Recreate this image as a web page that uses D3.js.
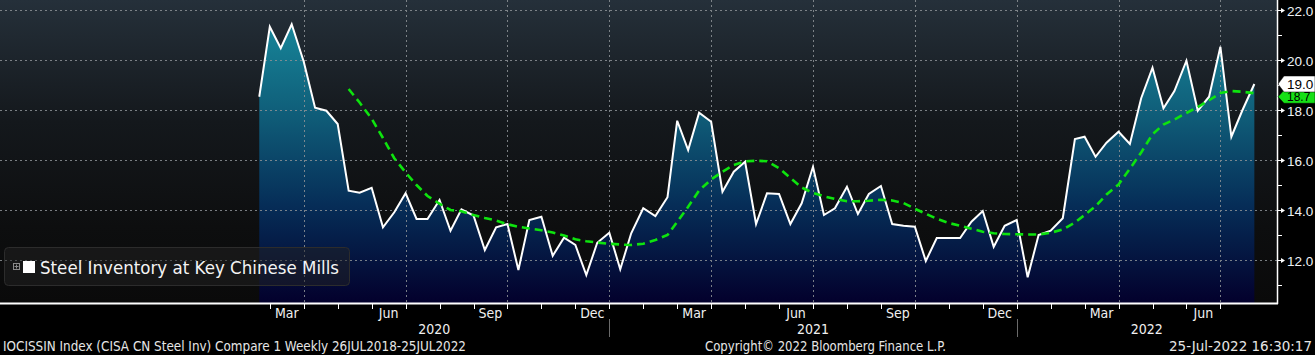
<!DOCTYPE html>
<html><head><meta charset="utf-8">
<script src="https://cdn.jsdelivr.net/npm/d3@7"></script>
<style>html,body{margin:0;padding:0;background:#000;overflow:hidden}</style>
</head><body>
<svg id="chart" width="1315" height="355"></svg>
<script>
// ---------- data ----------
const dates = [
"2020-02-21",
"2020-03-01","2020-03-11","2020-03-21","2020-04-01","2020-04-11","2020-04-21",
"2020-05-01","2020-05-11","2020-05-21","2020-06-01","2020-06-11","2020-06-21",
"2020-07-01","2020-07-11","2020-07-21","2020-08-01","2020-08-11","2020-08-21",
"2020-09-01","2020-09-11","2020-09-21","2020-10-01","2020-10-11","2020-10-21",
"2020-11-01","2020-11-11","2020-11-21","2020-12-01","2020-12-11","2020-12-21",
"2021-01-01","2021-01-11","2021-01-21","2021-02-01","2021-02-11","2021-02-21",
"2021-03-01","2021-03-11","2021-03-21","2021-04-01","2021-04-11","2021-04-21",
"2021-05-01","2021-05-11","2021-05-21","2021-06-01","2021-06-11","2021-06-21",
"2021-07-01","2021-07-11","2021-07-21","2021-08-01","2021-08-11","2021-08-21",
"2021-09-01","2021-09-11","2021-09-21","2021-10-01","2021-10-11","2021-10-21",
"2021-11-01","2021-11-11","2021-11-21","2021-12-01","2021-12-11","2021-12-21",
"2022-01-01","2022-01-11","2022-01-21","2022-02-01","2022-02-11","2022-02-21",
"2022-03-01","2022-03-11","2022-03-21","2022-04-01","2022-04-11","2022-04-21",
"2022-05-01","2022-05-11","2022-05-21","2022-06-01","2022-06-11","2022-06-21",
"2022-07-01","2022-07-11","2022-07-21","2022-08-01"
];
const inventory = [
18.53,21.33,20.47,21.43,19.93,18.09,17.97,17.44,14.77,14.69,14.89,13.31,
13.91,14.67,13.64,13.64,14.40,13.17,14.03,13.78,12.40,13.31,13.44,11.60,
13.60,13.73,12.17,12.89,12.60,11.40,12.69,13.09,11.63,13.07,14.07,13.76,
14.51,17.57,16.40,17.89,17.53,14.73,15.53,15.93,13.44,14.67,14.64,13.44,
14.27,15.73,13.80,14.07,14.93,13.84,14.64,14.96,13.44,13.37,13.33,11.96,
12.88,12.88,12.88,13.53,13.96,12.53,13.37,13.60,11.31,13.00,13.17,13.67,
16.84,16.93,16.13,16.69,17.13,16.64,18.47,19.69,18.07,18.76,19.97,17.97,
18.53,20.53,16.93,17.98,19.04
];
const movingAvg = [
null,null,null,null,null,null,null,null,
18.84,18.30,17.65,16.88,16.07,15.50,15.00,14.56,14.25,14.00,13.95,13.80,
13.68,13.58,13.43,13.33,13.26,13.19,13.10,12.98,12.83,12.75,12.70,12.65,
12.62,12.60,12.65,12.80,13.00,13.53,14.13,14.78,15.22,15.53,15.80,15.95,
15.97,15.95,15.67,15.28,14.90,14.68,14.55,14.44,14.35,14.35,14.37,14.41,
14.38,14.28,14.05,13.85,13.65,13.48,13.37,13.25,13.13,13.07,13.04,13.03,
13.02,13.02,13.09,13.22,13.50,13.80,14.15,14.62,15.02,15.65,16.30,17.03,
17.42,17.62,17.88,18.12,18.39,18.68,18.76,18.73,18.67
];
const yTicksMajor = [12,14,16,18,20,22];
const yTicksMinor = [11,13,15,17,19,21];
const monthLabelNames = ["Jan","Feb","Mar","Apr","May","Jun","Jul","Aug","Sep","Oct","Nov","Dec"];
const labelledMonths = [2,5,8,11];          // Mar, Jun, Sep, Dec
const yearLabels = ["2020","2021","2022"];
const seriesName = "Steel Inventory at Key Chinese Mills";
const footerLeft = "IOCISSIN Index (CISA CN Steel Inv) Compare 1  Weekly 26JUL2018-25JUL2022";
const footerMid = "Copyright\u00A9 2022 Bloomberg Finance L.P.";
const footerRight = "25-Jul-2022 16:30:17";

// ---------- layout ----------
const W = 1315, H = 355;
const plotR = 1277, plotB = 303;
const svg = d3.select("#chart");

// month position (months since Jan 2020, fractional)
function mpos(s){
  const d = new Date(s + "T00:00:00Z");
  const y = d.getUTCFullYear(), m = d.getUTCMonth(), day = d.getUTCDate();
  const dim = new Date(Date.UTC(y, m + 1, 0)).getUTCDate();
  return (y - 2020) * 12 + m + (day - 1) / dim;
}
const x = d3.scaleLinear().domain([0, 36]).range([201.9, 201.9 + 36 * 33.95]);
const y = d3.scaleLinear().domain([10.28, 22.4]).range([plotB, 0]);

const pts = dates.map((d, i) => ({m: mpos(d), v: inventory[i], a: movingAvg[i]}));

const defs = svg.append("defs");
const bg = defs.append("linearGradient").attr("id","bg").attr("x1",0).attr("x2",0).attr("y1",0).attr("y2",1);
bg.append("stop").attr("offset","0%").attr("stop-color","#25303a");
bg.append("stop").attr("offset","40%").attr("stop-color","#14181c");
bg.append("stop").attr("offset","75%").attr("stop-color","#0d0e0f");
bg.append("stop").attr("offset","100%").attr("stop-color","#0a0a0a");
const ag = defs.append("linearGradient").attr("id","area").attr("gradientUnits","userSpaceOnUse")
  .attr("x1",0).attr("x2",0).attr("y1",20).attr("y2",plotB);
ag.append("stop").attr("offset","0%").attr("stop-color","#17879a");
ag.append("stop").attr("offset","35%").attr("stop-color","#0f5b77");
ag.append("stop").attr("offset","65%").attr("stop-color","#062e58");
ag.append("stop").attr("offset","100%").attr("stop-color","#03002c");

svg.append("rect").attr("width",W).attr("height",H).attr("fill","#000");
svg.append("rect").attr("x",0).attr("y",0).attr("width",plotR).attr("height",plotB).attr("fill","url(#bg)");

// area
const area = d3.area().x(d => x(d.m)).y0(plotB).y1(d => y(d.v));
svg.append("path").datum(pts).attr("d", area).attr("fill","url(#area)");

// gridlines
const grid = svg.append("g").attr("stroke","#8d9296").attr("stroke-width",1).attr("stroke-dasharray","2,3").attr("opacity",0.85);
yTicksMajor.forEach(t => {
  grid.append("line").attr("x1",0).attr("x2",plotR).attr("y1",Math.round(y(t))+0.5).attr("y2",Math.round(y(t))+0.5);
});
d3.range(3, 33, 3).forEach(m => {
  grid.append("line").attr("x1",Math.round(x(m))+0.5).attr("x2",Math.round(x(m))+0.5).attr("y1",0).attr("y2",plotB);
});

// series line
const line = d3.line().x(d => x(d.m)).y(d => y(d.v));
svg.append("path").datum(pts).attr("d", line).attr("fill","none").attr("stroke","#ffffff")
  .attr("stroke-width",2).attr("stroke-linejoin","miter");

// moving average
const maLine = d3.line().defined(d => d.a != null).x(d => x(d.m)).y(d => y(d.a));
svg.append("path").datum(pts).attr("d", maLine).attr("fill","none").attr("stroke","#0ee30e")
  .attr("stroke-width",2.6).attr("stroke-dasharray","8,5");

// axes lines
svg.append("line").attr("x1",0).attr("x2",plotR+1).attr("y1",plotB+0.5).attr("y2",plotB+0.5).attr("stroke","#fff").attr("stroke-width",2);
svg.append("line").attr("x1",plotR+0.5).attr("x2",plotR+0.5).attr("y1",0).attr("y2",plotB+1).attr("stroke","#fff").attr("stroke-width",1.5);

// x ticks (month boundaries)
const xt = svg.append("g").attr("stroke","#fff").attr("stroke-width",1);
d3.range(2, 31).forEach(m => {
  const xx = Math.round(x(m)) + 0.5;
  xt.append("line").attr("x1",xx).attr("x2",xx).attr("y1",plotB).attr("y2",plotB+6);
});

const narrow = "'Liberation Sans Narrow','DejaVu Sans Condensed','Arial Narrow',sans-serif";
// month labels
const ml = svg.append("g").attr("fill","#f0f0f0").attr("font-family",narrow).attr("font-size",14).attr("text-anchor","middle");
d3.range(0, 31).forEach(m => {
  const mo = m % 12;
  if (labelledMonths.includes(mo) && x(m) > 250) {
    ml.append("text").attr("x", x(m + 0.5)).attr("y", 318).text(monthLabelNames[mo]);
  }
});
// year labels + separators
const firstX = x(pts[0].m);
const yearSpans = [[firstX, x(12)], [x(12), x(24)], [x(24), plotR]];
yearLabels.forEach((yl, i) => {
  ml.append("text").attr("x", (yearSpans[i][0] + yearSpans[i][1]) / 2).attr("y", 334).text(yl);
});
[12, 24].forEach(m => {
  svg.append("line").attr("x1",Math.round(x(m))+0.5).attr("x2",Math.round(x(m))+0.5)
    .attr("y1",319).attr("y2",337).attr("stroke","#6a6a6a").attr("stroke-width",1);
});

// y ticks and labels
const ya = svg.append("g");
yTicksMajor.forEach(t => {
  const yy = Math.round(y(t)) + 0.5;
  ya.append("line").attr("x1",plotR).attr("x2",plotR+5).attr("y1",yy).attr("y2",yy).attr("stroke","#fff");
  ya.append("path").attr("d", `M${plotR+4},${yy-2.5}L${plotR+8},${yy}L${plotR+4},${yy+2.5}Z`).attr("fill","#fff");
  ya.append("text").attr("x",1287).attr("y",yy+5).attr("fill","#eef2f6").attr("font-family","'Liberation Sans',Arial,sans-serif")
    .attr("font-size",13.5).text(d3.format(".1f")(t));
});
yTicksMinor.forEach(t => {
  const yy = Math.round(y(t)) + 0.5;
  ya.append("line").attr("x1",plotR).attr("x2",plotR+5).attr("y1",yy).attr("y2",yy).attr("stroke","#fff");
});

// value tags
function tag(cy, h, fs, fill, label){
  const g = svg.append("g");
  g.append("path").attr("d", `M${plotR+1},${cy}L${plotR+7},${cy-h/2}L${W},${cy-h/2}L${W},${cy+h/2}L${plotR+7},${cy+h/2}Z`)
    .attr("fill", fill).attr("stroke","#000").attr("stroke-width",0.5);
  g.append("text").attr("x",1287).attr("y",cy+fs*0.36).attr("fill","#000").attr("font-family","'Liberation Sans',Arial,sans-serif")
    .attr("font-size",fs).text(label);
}
const lastMA = movingAvg[movingAvg.length - 1];
const lastV = inventory[inventory.length - 1];
tag(y(lastMA) + 3.5, 13, 12, "#16e016", d3.format(".1f")(lastMA));
tag(y(lastV), 16, 13.5, "#ffffff", d3.format(".1f")(lastV));

// legend
const lg = svg.append("g");
lg.append("rect").attr("x",4.5).attr("y",247.5).attr("width",345).attr("height",38).attr("rx",4)
  .attr("fill","rgba(34,34,34,0.5)").attr("stroke","#2c2c2c");
lg.append("rect").attr("x",13.5).attr("y",263.5).attr("width",6).attr("height",6).attr("fill","none").attr("stroke","#8a8a8a");
lg.append("path").attr("d","M14.5,266.5H18.5M16.5,264.5V268.5").attr("stroke","#8a8a8a");
lg.append("rect").attr("x",23).attr("y",261).attr("width",12).attr("height",12).attr("fill","#fff");
lg.append("text").attr("x",40).attr("y",274).attr("fill","#f4f4f4").attr("font-family","'DejaVu Sans',Verdana,sans-serif")
  .attr("font-size",18.5).attr("textLength",299).attr("lengthAdjust","spacingAndGlyphs").text(seriesName);

// footer
const ft = svg.append("g").attr("fill","#e6e6e6").attr("font-family",narrow).attr("font-size",13.5);
ft.append("text").attr("x",3).attr("y",351).attr("textLength",463).attr("lengthAdjust","spacingAndGlyphs").text(footerLeft);
ft.append("text").attr("x",705).attr("y",351).attr("textLength",241).attr("lengthAdjust","spacingAndGlyphs").text(footerMid);
ft.append("text").attr("x",1169).attr("y",351).attr("textLength",143).attr("lengthAdjust","spacingAndGlyphs").text(footerRight);
</script>
</body></html>
